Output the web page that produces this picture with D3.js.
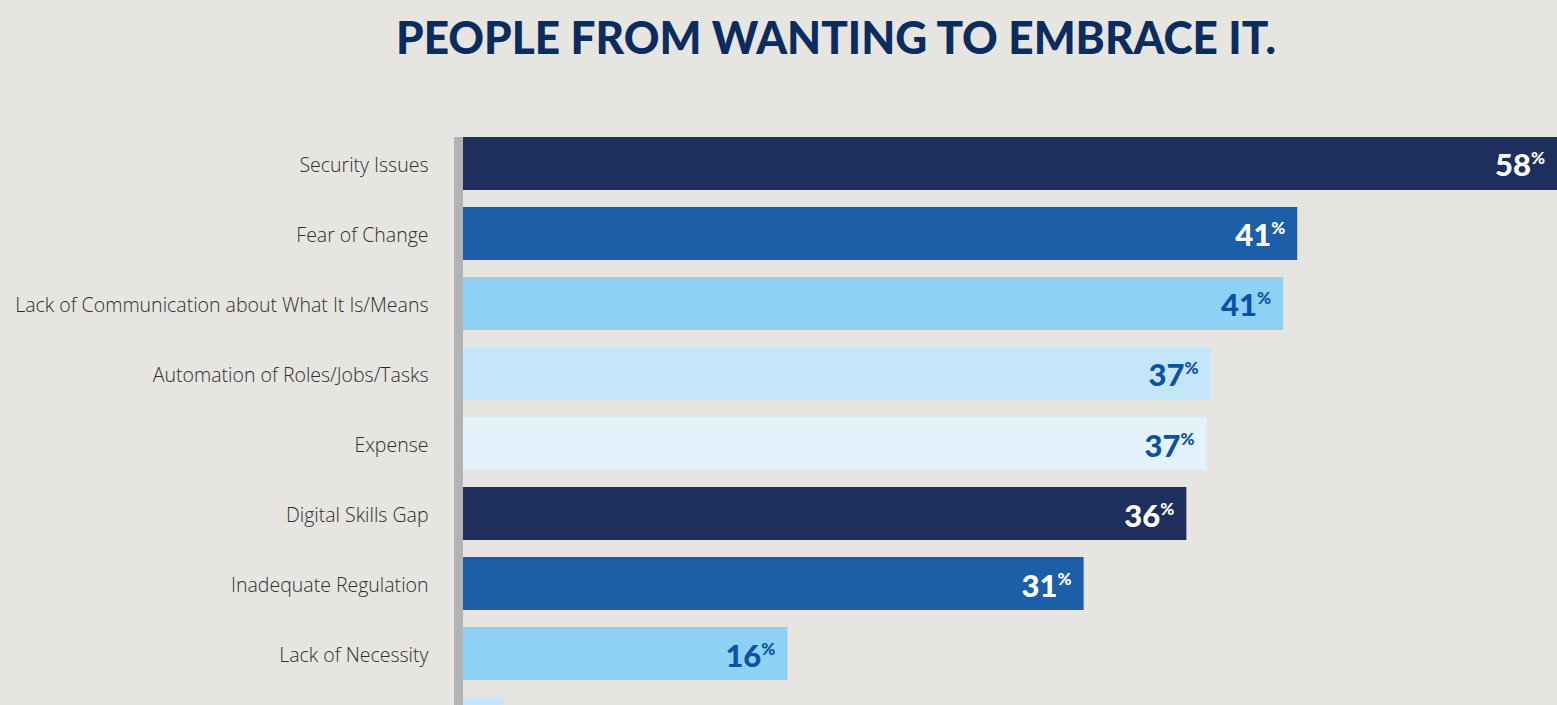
<!DOCTYPE html>
<html>
<head>
<meta charset="utf-8">
<script src="https://cdn.jsdelivr.net/npm/d3@7"></script>
<style>
  body { margin: 0; background: #e6e5e1; overflow: hidden; }
  svg { display: block; }
</style>
</head>
<body>
<svg></svg>
<script>
// data
let categories = [
  "Security Issues",
  "Fear of Change",
  "Lack of Communication about What It Is/Means",
  "Automation of Roles/Jobs/Tasks",
  "Expense",
  "Digital Skills Gap",
  "Inadequate Regulation",
  "Lack of Necessity",
  "Other"
];
let values = [58, 41.4, 40.7, 37.1, 36.9, 35.9, 30.8, 16.1, 2];

let barColors = ["#1e2f5e", "#1d5ea8", "#8dd2f5", "#c3e6f9", "#e3f3fc"];
let labelColors = ["#ffffff", "#ffffff", "#0c52a3", "#0c52a3", "#0c52a3"];

let width = 1557;
let height = 705;
let left = 463;

let svg = d3.select('svg')
  .attr('width', width)
  .attr('height', height);

svg.append('text')
  .attr('x', 836)
  .attr('y', 54)
  .attr('text-anchor', 'middle')
  .attr('textLength', 880)
  .attr('lengthAdjust', 'spacingAndGlyphs')
  .style('font-family', 'Lato, sans-serif')
  .style('font-weight', 900)
  .style('font-size', '46px')
  .style('fill', '#0b2c5e')
  .text('PEOPLE FROM WANTING TO EMBRACE IT.');

let xScale = d3.scaleLinear()
  .domain([0, 50])
  .range([left, left + 50 * 20.15]);

let yScale = d3.scaleBand()
  .domain(categories)
  .range([137, 750])
  .paddingInner(0.243)
  .paddingOuter(0);

// bars
svg.selectAll('rect.bar')
  .data(values)
  .enter()
  .append('rect')
  .attr('class', 'bar')
  .attr('x', xScale(0))
  .attr('y', (d, i) => yScale(categories[i]))
  .attr('width', d => xScale(d) - xScale(0))
  .attr('height', yScale.bandwidth())
  .attr('fill', (d, i) => barColors[i % 5]);

// axis with category labels (last one falls below the picture)
let yAxis = d3.axisLeft(yScale)
  .tickSize(0)
  .tickPadding(30)
  .tickFormat((d, i) => i < 8 ? d : '');
let g = svg.append('g')
  .attr('transform', 'translate(' + (left - 4.5) + ',0)')
  .call(yAxis);
g.select('.domain')
  .attr('d', 'M0,' + 137 + 'V' + height)
  .attr('stroke', '#b3b3b3')
  .attr('stroke-width', 9);
g.selectAll('.tick text')
  .attr('dy', '0.42em')
  .style('font-family', '"Open Sans", sans-serif')
  .style('font-weight', 300)
  .style('font-size', '19.5px')
  .style('fill', '#2e2e2e');

// value labels
let labels = svg.selectAll('text.val')
  .data(values.slice(0, 8))
  .enter()
  .append('text')
  .attr('class', 'val')
  .attr('x', d => Math.min(xScale(d), width) - 12)
  .attr('y', (d, i) => yScale(categories[i]) + yScale.bandwidth() / 2 + 13)
  .attr('text-anchor', 'end')
  .style('font-family', 'Lato, sans-serif')
  .style('font-weight', 900)
  .style('fill', (d, i) => labelColors[i % 5]);

labels.append('tspan')
  .style('font-size', '31px')
  .text(d => Math.round(d));
labels.append('tspan')
  .attr('dy', -12)
  .style('font-size', '17px')
  .text('%');
</script>
</body>
</html>
